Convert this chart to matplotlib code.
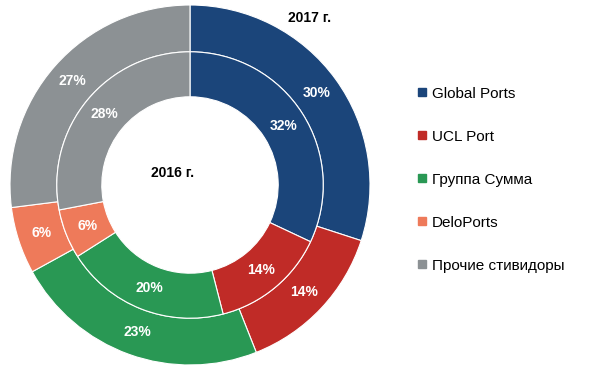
import matplotlib.pyplot as plt
from matplotlib.lines import Line2D

# Data
companies = ['Global Ports', 'UCL Port', 'Группа Сумма', 'DeloPorts', 'Прочие стивидоры']
share_2017 = [30, 14, 23, 6, 27]
share_2016 = [32, 14, 20, 6, 28]
colors = ['#1B457A', '#C02B27', '#299854', '#EE7A5A', '#8C9194']

plt.rcParams['font.family'] = ['Liberation Sans', 'DejaVu Sans']

fig = plt.figure(figsize=(6.03, 3.75), dpi=100)
ax = fig.add_axes([10 / 603, 10 / 375, 360 / 603, 360 / 375])

r_out, r_mid, r_in = 1.0, 0.74, 0.49
wedge = dict(edgecolor='white', linewidth=0.8)
txt = dict(color='white', fontsize=10, fontweight='bold')

# Outer ring: 2017
ax.pie(share_2017, radius=r_out, colors=colors, startangle=90, counterclock=False,
       wedgeprops=dict(width=r_out - r_mid, **wedge),
       labels=[f'{v}%' for v in share_2017], labeldistance=(r_out + r_mid) / 2,
       textprops=dict(ha='center', va='center', **txt))

# Inner ring: 2016
ax.pie(share_2016, radius=r_mid, colors=colors, startangle=90, counterclock=False,
       wedgeprops=dict(width=r_mid - r_in, **wedge),
       labels=[f'{v}%' for v in share_2016], labeldistance=(r_mid + r_in) / 2 / r_mid,
       textprops=dict(ha='center', va='center', **txt))

ax.set_xlim(-1, 1)
ax.set_ylim(-1, 1)
ax.set_aspect('equal')
ax.axis('off')

fig.text(310 / 603, 1 - 18 / 375, '2017 г.', fontsize=10, fontweight='bold',
         ha='center', va='center')
fig.text(173 / 603, 1 - 173 / 375, '2016 г.', fontsize=10, fontweight='bold',
         ha='center', va='center')

handles = [Line2D([], [], marker='s', color=c, linestyle='none', markersize=6) for c in colors]
fig.legend(handles, companies, loc='upper left', bbox_to_anchor=(410 / 603, 1 - 79 / 375),
           frameon=False, fontsize=11, labelspacing=1.9, handlelength=0.6,
           handletextpad=0.35, borderpad=0)

fig.savefig('out.png', dpi=100)
